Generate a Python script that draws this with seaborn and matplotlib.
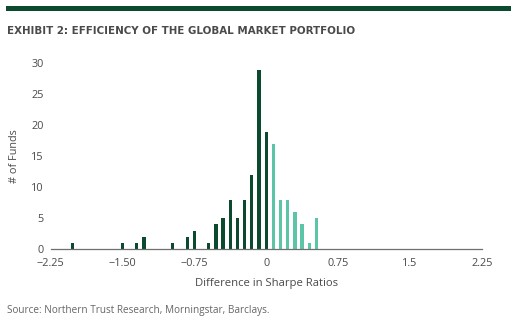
import matplotlib
matplotlib.use("Agg")
import matplotlib.pyplot as plt
import seaborn as sns
import pandas as pd
from matplotlib.patches import Rectangle

# Data: difference in Sharpe ratios (bin positions) and number of funds
diff_values = [-2.025, -1.5, -1.35, -1.275, -0.975, -0.825, -0.75, -0.6, -0.525,
               -0.45, -0.375, -0.3, -0.225, -0.15, -0.075, 0.0,
               0.075, 0.15, 0.225, 0.3, 0.375, 0.45, 0.525]
fund_counts = [1, 1, 1, 2, 1, 2, 3, 1, 4,
               5, 8, 5, 8, 12, 29, 19,
               17, 8, 8, 6, 4, 1, 5]
x_ticks = [-2.25, -1.5, -0.75, 0, 0.75, 1.5, 2.25]
x_ticklabels = ["\u22122.25", "\u22121.50", "\u22120.75", "0", "0.75", "1.5", "2.25"]
y_ticks = [0, 5, 10, 15, 20, 25, 30]

title = "EXHIBIT 2: EFFICIENCY OF THE GLOBAL MARKET PORTFOLIO"
source = "Source: Northern Trust Research, Morningstar, Barclays."

DARK = "#0b4a2e"
LIGHT = "#5cc5a8"
TEXT = "#4a4a4a"

sns.set_theme(style="white")
plt.rcParams["font.family"] = ["Open Sans", "DejaVu Sans"]

df = pd.DataFrame({"diff": diff_values, "funds": fund_counts})
df["side"] = ["neg" if v <= 0 else "pos" for v in df["diff"]]

fig = plt.figure(figsize=(5.17, 3.22), dpi=100)
ax = fig.add_axes([0.098, 0.2258, 0.8337, 0.5776])

sns.barplot(data=df, x="diff", y="funds", hue="side",
            palette={"neg": DARK, "pos": LIGHT}, native_scale=True,
            dodge=False, width=0.45, legend=False, ax=ax, saturation=1,
            linewidth=0, antialiased=False)

ax.set_xlim(-2.25, 2.25)
ax.set_ylim(0, 30)
ax.set_xticks(x_ticks)
ax.set_xticklabels(x_ticklabels)
ax.set_yticks(y_ticks)
ax.tick_params(axis="both", length=0, labelsize=7.8, colors=TEXT)
ax.tick_params(axis="x", pad=6)
ax.tick_params(axis="y", pad=5)
for s in ["top", "right", "left"]:
    ax.spines[s].set_visible(False)
ax.spines["bottom"].set_color("#6f6f6f")
ax.spines["bottom"].set_linewidth(0.9)
ax.set_xlabel("Difference in Sharpe Ratios", fontsize=8.1, color=TEXT, labelpad=7)
ax.set_ylabel("# of Funds", fontsize=7.8, color=TEXT, labelpad=8)

# top rule
fig.add_artist(Rectangle((6 / 517, 1 - 11 / 322), 505 / 517, 5 / 322,
                         transform=fig.transFigure, color="#0b4a2e", lw=0))
fig.text(7 / 517, 1 - 31 / 322, title, fontsize=7.4, fontweight="bold",
         color=TEXT, va="center", ha="left", family="DejaVu Sans")
fig.text(7 / 517, 1 - 310 / 322, source, fontsize=7.2, color="#666666",
         va="center", ha="left")

fig.savefig("out.png", dpi=100)
